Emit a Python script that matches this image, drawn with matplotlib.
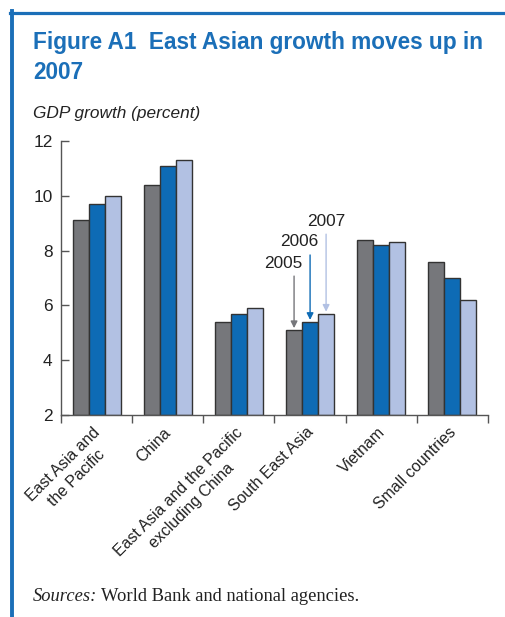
import matplotlib
matplotlib.use("Agg")
import matplotlib.pyplot as plt
from matplotlib.lines import Line2D
import numpy as np

categories = ["East Asia and\nthe Pacific", "China", "East Asia and the Pacific\nexcluding China",
              "South East Asia", "Vietnam", "Small countries"]
years = ["2005", "2006", "2007"]
v2005 = [9.1, 10.4, 5.4, 5.1, 8.4, 7.6]
v2006 = [9.7, 11.1, 5.7, 5.4, 8.2, 7.0]
v2007 = [10.0, 11.3, 5.9, 5.7, 8.3, 6.2]
yticks = [2, 4, 6, 8, 10, 12]

colors = ["#76777b", "#0e6bb5", "#b2c1e3"]
edge = "#333333"
blue_border = "#1b6fb8"
txt = "#222222"

W, H = 505, 617
fig = plt.figure(figsize=(W / 100, H / 100), dpi=100)
plt.rcParams['font.family'] = ['Liberation Sans', 'DejaVu Sans']

def fy(p):
    return 1 - p / H

# frame border (top and left)
fig.add_artist(Line2D([10 / W, 1.0], [fy(12.5), fy(12.5)], color=blue_border, lw=2.3,
                      transform=fig.transFigure))
fig.add_artist(Line2D([11.5 / W, 11.5 / W], [fy(11), 0], color=blue_border, lw=2.8,
                      transform=fig.transFigure))

fig.text(33 / W, fy(49), "Figure A1  East Asian growth moves up in",
         color=blue_border, fontsize=16.3, fontweight='bold', va='baseline', ha='left')
fig.text(33 / W, fy(79), "2007",
         color=blue_border, fontsize=16.3, fontweight='bold', va='baseline', ha='left')
fig.text(33 / W, fy(118), "GDP growth (percent)", fontsize=12.4, style='italic',
         color=txt, va='baseline', ha='left')

ax = fig.add_axes([61 / W, fy(415), (488 - 61) / W, (415 - 141) / H])
x = np.arange(len(categories))
bw = 0.225
series = [v2005, v2006, v2007]
for i, vals in enumerate(series):
    ax.bar(x + (i - 1) * bw, np.array(vals) - 2, bottom=2, width=bw, color=colors[i],
           edgecolor=edge, linewidth=1.0, zorder=2)

ax.set_ylim(2, 12)
ax.set_xlim(-0.5, len(categories) - 0.5)
ax.set_yticks(yticks)
ax.set_yticklabels([str(t) for t in yticks], fontsize=12.4, color=txt)
ax.tick_params(axis='y', direction='in', length=6, width=1, color="#555555", pad=6)
ax.set_xticks(np.arange(len(categories) + 1) - 0.5)
ax.set_xticklabels([])
ax.tick_params(axis='x', direction='out', length=6, width=1, color="#555555")
for s in ['top', 'right']:
    ax.spines[s].set_visible(False)
for s in ['left', 'bottom']:
    ax.spines[s].set_color("#555555")
    ax.spines[s].set_linewidth(1.0)

for i, lab in enumerate(categories):
    ax.annotate(lab, xy=(i, 2), xycoords='data', xytext=(-3, -7), textcoords='offset points',
                rotation=45, rotation_mode='anchor', ha='right', va='top',
                multialignment='center', fontsize=11.4, color=txt, linespacing=1.35)

# year annotations on South East Asia group
sea = categories.index("South East Asia")
arrow_tops = [7.07, 7.84, 8.6]
text_dx = [-11, -11, 0]
for i, yr in enumerate(years):
    xv = sea + (i - 1) * bw
    top = series[i][sea]
    ax.annotate("", xy=(xv, top + 0.07), xytext=(xv, arrow_tops[i]),
                arrowprops=dict(arrowstyle='-|>', color=colors[i], lw=1.0,
                                mutation_scale=10, shrinkA=0, shrinkB=0))
    ax.annotate(yr, xy=(xv, arrow_tops[i]), xycoords='data',
                xytext=(text_dx[i] * 0.72, 4), textcoords='offset points', ha='center',
                va='bottom', fontsize=12.4, color=txt)

# Sources line
t1 = fig.text(33 / W, fy(601), "Sources:", fontsize=13.3, va='baseline', ha='left',
              family='Liberation Serif', style='italic', color=txt)
fig.canvas.draw()
bb = t1.get_window_extent()
fig.text((bb.x1 + 4) / W, fy(601), "World Bank and national agencies.", fontsize=13.3,
         va='baseline', ha='left', family='Liberation Serif', color=txt)

fig.savefig("out.png", dpi=100)
